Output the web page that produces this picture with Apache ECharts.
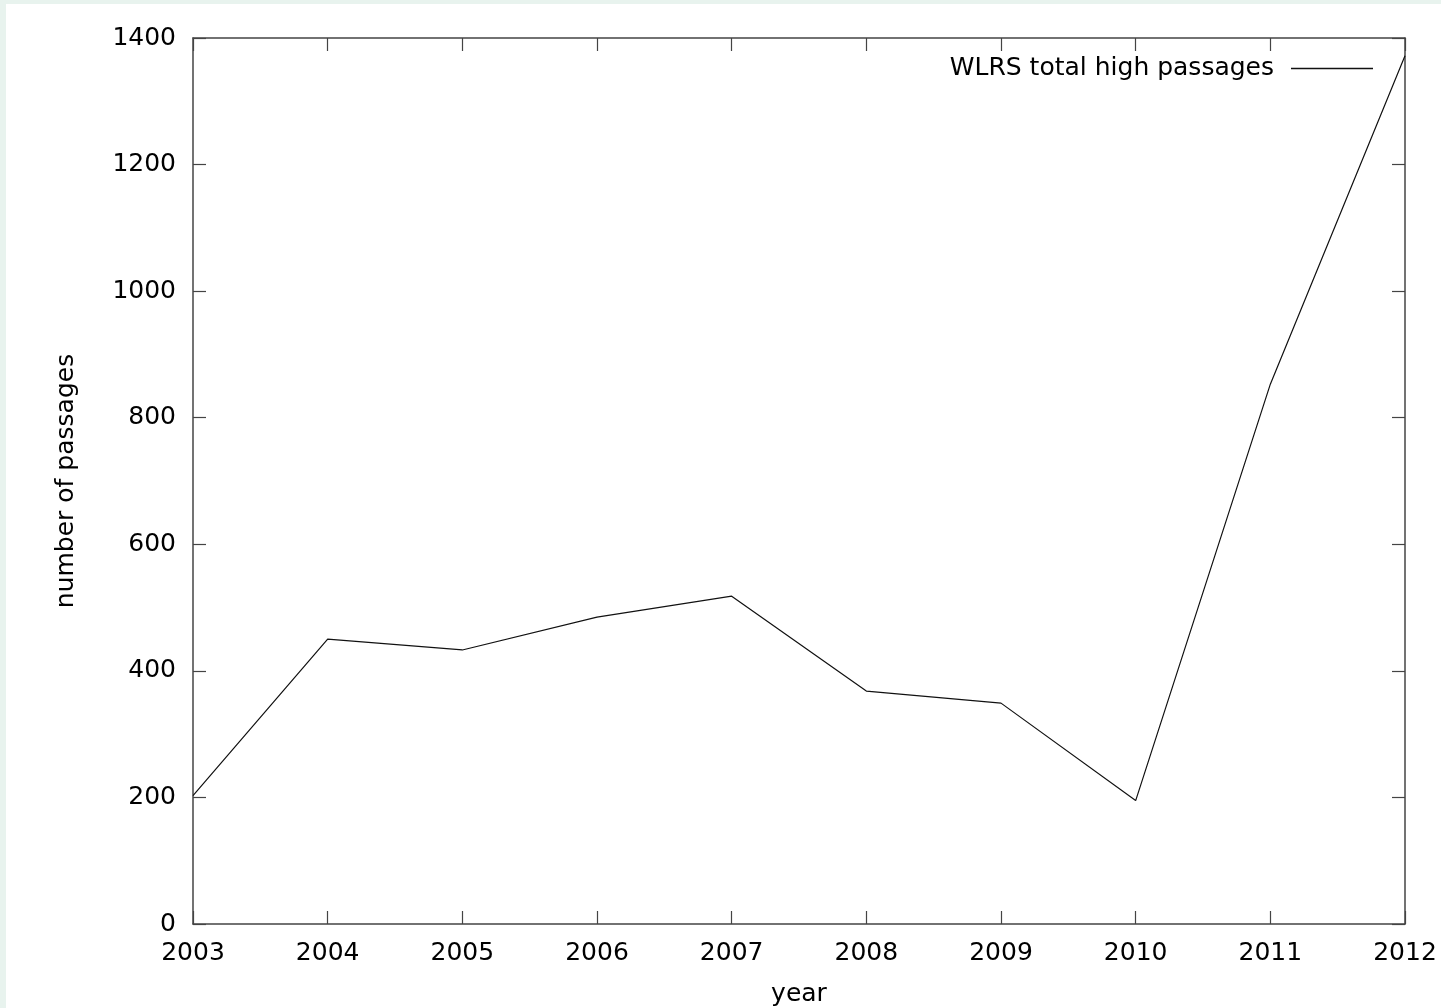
<!DOCTYPE html>
<html>
<head>
<meta charset="utf-8">
<script src="https://cdn.jsdelivr.net/npm/echarts@6/dist/echarts.min.js"></script>
<style>
  html, body { margin: 0; padding: 0; background: #e8f3ee; }
  #chart { position: absolute; left: 6px; top: 4px; width: 1435px; height: 1004px; background: #ffffff; }
</style>
</head>
<body>
<div id="chart"></div>
<script>
// Yearly totals of WLRS high passages
const years = [2003, 2004, 2005, 2006, 2007, 2008, 2009, 2010, 2011, 2012];
const passages = [203, 450, 433, 485, 518, 368, 349, 195, 853, 1372];
const seriesName = 'WLRS total high passages';

const FONT = 'DejaVu Sans';
const AXIS_COLOR = '#444444';
const plain = v => String(v);

const chart = echarts.init(document.getElementById('chart'));

// Shared look of the four frame sides: thin dark line, ticks pointing into the plot
function frameAxis(extra) {
  return Object.assign({
    axisLine: { show: true, onZero: false, lineStyle: { color: AXIS_COLOR, width: 1.5 } },
    axisTick: { show: true, inside: true, length: 13, lineStyle: { color: AXIS_COLOR, width: 1.2 } },
    splitLine: { show: false }
  }, extra);
}

chart.setOption({
  animation: false,
  grid: { left: 187, top: 34, right: 36, bottom: 84, containLabel: false, outerBoundsMode: 'none' },
  legend: {
    data: [seriesName],
    right: 63,
    top: 47,
    bottom: 'auto',
    left: 'auto',
    orient: 'horizontal',
    align: 'right',
    itemWidth: 82,
    itemHeight: 1.5,
    icon: 'rect',
    itemStyle: { color: '#111111' },
    textStyle: { fontFamily: FONT, fontSize: 25, color: '#000', padding: [0, 12, 0, 0] }
  },
  xAxis: [
    frameAxis({
      type: 'value', min: 2003, max: 2012, interval: 1, position: 'bottom',
      name: 'year', nameLocation: 'middle', nameGap: 58,
      nameTextStyle: { fontFamily: FONT, fontSize: 25, color: '#000' },
      axisLabel: { fontFamily: FONT, fontSize: 25, color: '#000', margin: 17, formatter: plain }
    }),
    frameAxis({
      type: 'value', min: 2003, max: 2012, interval: 1, position: 'top',
      axisLabel: { show: false }
    })
  ],
  yAxis: [
    frameAxis({
      type: 'value', min: 0, max: 1400, interval: 200, position: 'left',
      name: 'number of passages', nameLocation: 'middle', nameGap: 114, nameRotate: 90,
      nameTextStyle: { fontFamily: FONT, fontSize: 25, color: '#000' },
      axisLabel: { fontFamily: FONT, fontSize: 25, color: '#000', margin: 17, formatter: plain }
    }),
    frameAxis({
      type: 'value', min: 0, max: 1400, interval: 200, position: 'right',
      axisLabel: { show: false }
    })
  ],
  series: [{
    name: seriesName,
    type: 'line',
    xAxisIndex: 0,
    yAxisIndex: 0,
    data: years.map((y, i) => [y, passages[i]]),
    showSymbol: false,
    symbol: 'none',
    lineStyle: { color: '#111111', width: 1.2 },
    itemStyle: { color: '#111111' }
  }]
});
</script>
</body>
</html>
